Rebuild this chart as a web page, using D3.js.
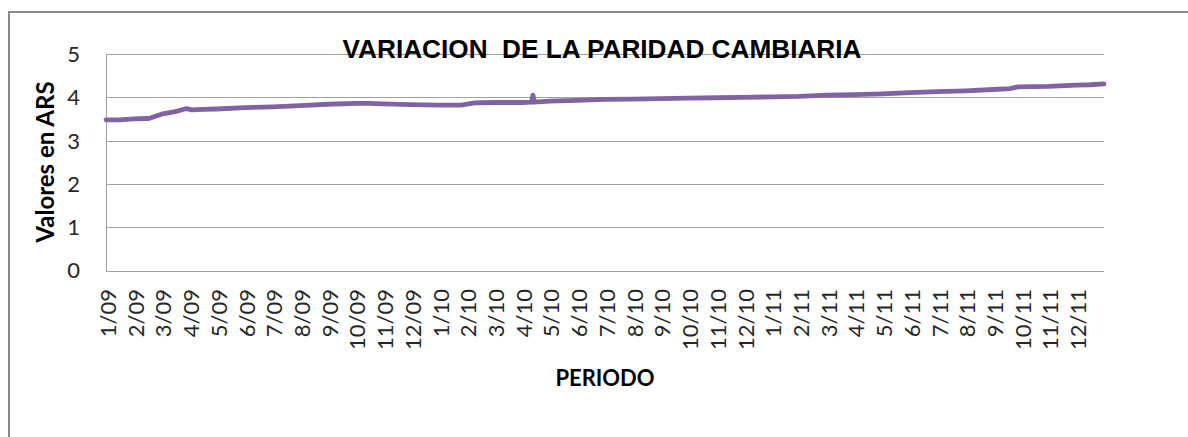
<!DOCTYPE html>
<html><head><meta charset="utf-8">
<script src="https://cdn.jsdelivr.net/npm/d3@7"></script>
<style>body{margin:0;background:#fff}svg{display:block}</style>
</head><body>
<svg id="c" width="1188" height="437"></svg>
<script>
// month labels (m/yy)
const months = ["1/09","2/09","3/09","4/09","5/09","6/09","7/09","8/09","9/09","10/09","11/09","12/09",
  "1/10","2/10","3/10","4/10","5/10","6/10","7/10","8/10","9/10","10/10","11/10","12/10",
  "1/11","2/11","3/11","4/11","5/11","6/11","7/11","8/11","9/11","10/11","11/11","12/11"];
// time position in months since 1/09 and exchange-rate readings (ARS per USD)
const tPos = [0,0.5,1,1.5,1.6,2,2.5,2.9,3.1,3.5,4,5,6,7,8,9,9.5,10,11,12,12.8,13.3,14,14.5,15,15.35,15.4,15.45,16,17,18,19,20,21,22,23,24,25,26,27,28,29,30,31,32,32.6,32.9,34,35,35.5,36];
const rate = [3.48,3.48,3.50,3.51,3.52,3.61,3.67,3.74,3.71,3.72,3.73,3.76,3.78,3.81,3.84,3.86,3.86,3.85,3.83,3.82,3.82,3.87,3.88,3.88,3.88,3.89,4.05,3.89,3.91,3.93,3.95,3.96,3.97,3.98,3.99,4.00,4.01,4.02,4.05,4.06,4.08,4.11,4.13,4.15,4.18,4.20,4.24,4.25,4.28,4.29,4.31];
const yTicks = [0,1,2,3,4,5];

const svg = d3.select("#c");
const L=106, R=1104, T=54, B=270.5;
const x = d3.scaleLinear().domain([0, months.length]).range([L, R]);
const y = d3.scaleLinear().domain([0, 5]).range([B, T]);

// outer chart border
svg.append("rect").attr("x",9).attr("y",12).attr("width",1200).attr("height",450)
  .attr("fill","none").attr("stroke","#8a8a8a").attr("stroke-width",2);

// gridlines
svg.append("g").selectAll("line").data(yTicks.filter(d=>d>0)).join("line")
  .attr("x1",L).attr("x2",R).attr("y1",d=>Math.round(y(d))+0.5).attr("y2",d=>Math.round(y(d))+0.5)
  .attr("stroke","#a0a0a0").attr("stroke-width",1);
// axes lines
svg.append("line").attr("x1",L+0.5).attr("x2",L+0.5).attr("y1",y(5)).attr("y2",Math.round(B)+0.5).attr("stroke","#a0a0a0");
svg.append("line").attr("x1",L).attr("x2",R).attr("y1",Math.round(B)+0.5).attr("y2",Math.round(B)+0.5).attr("stroke","#a0a0a0");

// y tick labels
svg.append("g").selectAll("text").data(yTicks).join("text")
  .attr("x",80).attr("y",d=>y(d)).attr("dy","0.36em").attr("text-anchor","end")
  .attr("font-family","Lato, sans-serif").attr("font-size",22).attr("fill","#262626")
  .text(d=>d);

// x tick labels
svg.append("g").selectAll("text").data(months).join("text")
  .attr("transform",(d,i)=>`translate(${x(i)+2},289) rotate(-90)`)
  .attr("dy","0.36em").attr("text-anchor","end")
  .attr("font-family","Lato, sans-serif").attr("font-size",22).attr("fill","#262626")
  .text(d=>d);

// line
const line = d3.line().x((d,i)=>x(tPos[i])).y(d=>y(d)).curve(d3.curveLinear);
svg.append("path").datum(rate).attr("d",line).attr("fill","none")
  .attr("stroke","#8064a2").attr("stroke-width",4.8).attr("stroke-linejoin","round").attr("stroke-linecap","round");

// title
svg.append("text").attr("x",602).attr("y",58).attr("text-anchor","middle")
  .attr("font-family","'Liberation Sans', Arial, sans-serif").attr("font-weight","bold").attr("font-size",26.2)
  .attr("fill","#000").attr("xml:space","preserve").style("white-space","pre")
  .text("VARIACION  DE LA PARIDAD CAMBIARIA");

// axis titles
svg.append("text").attr("transform",`translate(45,162) rotate(-90)`).attr("dy","0.36em")
  .attr("text-anchor","middle").attr("font-family","Lato, sans-serif").attr("font-weight","bold")
  .attr("font-size",24).attr("fill","#000").text("Valores en ARS");
svg.append("text").attr("x",605).attr("y",378).attr("dy","0.36em").attr("text-anchor","middle")
  .attr("font-family","Lato, sans-serif").attr("font-weight","bold")
  .attr("font-size",22).attr("fill","#000").text("PERIODO");
</script>
</body></html>
